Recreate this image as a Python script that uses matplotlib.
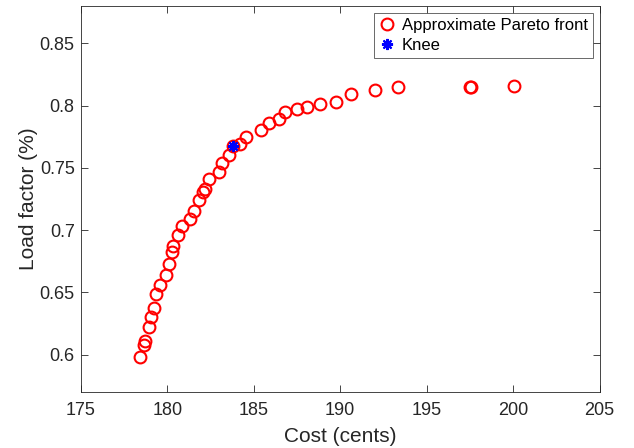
import numpy as np
import matplotlib
matplotlib.use("Agg")
import matplotlib.pyplot as plt

plt.rcParams['font.family'] = ['Liberation Sans', 'DejaVu Sans']

# approximate Pareto front (cost in cents, load factor)
cost = [178.40, 178.65, 178.73, 178.94, 179.04, 179.23, 179.36, 179.58, 179.91,
        180.10, 180.28, 180.34, 180.63, 180.83, 181.31, 181.54, 181.81, 182.08,
        182.20, 182.41, 182.99, 183.15, 183.55, 183.82, 184.22, 184.53, 185.42,
        185.90, 186.48, 186.81, 187.48, 188.06, 188.81, 189.78, 190.65, 192.02,
        193.37, 197.52, 197.58, 200.07]
load = [0.5982, 0.6080, 0.6112, 0.6225, 0.6303, 0.6378, 0.6490, 0.6562, 0.6640,
        0.6729, 0.6823, 0.6876, 0.6960, 0.7034, 0.7090, 0.7157, 0.7239, 0.7307,
        0.7331, 0.7414, 0.7470, 0.7542, 0.7606, 0.7679, 0.7688, 0.7751, 0.7807,
        0.7863, 0.7893, 0.7946, 0.7970, 0.7990, 0.8010, 0.8030, 0.8094, 0.8123,
        0.8150, 0.8149, 0.8152, 0.8161]

knee_cost = [183.82]
knee_load = [0.7679]

xticks = [175, 180, 185, 190, 195, 200, 205]
yticks = [0.6, 0.65, 0.7, 0.75, 0.8, 0.85]
ytick_labels = ['0.6', '0.65', '0.7', '0.75', '0.8', '0.85']

grey = (0.15, 0.15, 0.15)

fig = plt.figure(figsize=(6.34, 4.48), dpi=100)
ax = fig.add_axes([81 / 634, 56 / 448, 518.5 / 634, 386 / 448])

ax.plot(cost, load, 'o', color='red', mfc='none', ms=8.5, mew=1.5,
        label='Approximate Pareto front')
ax.plot(knee_cost, knee_load, marker=(8, 2, 0), ls='none', color='blue',
        ms=8, mew=1.5, label='Knee')

ax.set_xlim(175, 205)
ax.set_ylim(0.57, 0.88)
ax.set_xticks(xticks)
ax.set_yticks(yticks)
ax.set_yticklabels(ytick_labels)
ax.tick_params(direction='in', top=True, right=True, labelsize=13,
               colors=grey, length=5, width=0.6)
ax.tick_params(axis='x', pad=7)
ax.tick_params(axis='y', pad=4.5)
for s in ax.spines.values():
    s.set_color(grey)
    s.set_linewidth(0.6)

ax.set_xlabel('Cost (cents)', fontsize=15, color=grey, labelpad=6)
ax.set_ylabel('Load factor (%)', fontsize=15, color=grey, labelpad=1)

leg = ax.legend(loc='upper right', fontsize=12, frameon=True, fancybox=False,
                edgecolor=grey, handlelength=0.9, handletextpad=0.45,
                borderpad=0.3, labelspacing=0.3, borderaxespad=0.4)
leg.get_frame().set_linewidth(0.6)

fig.savefig('out.png', dpi=100)
